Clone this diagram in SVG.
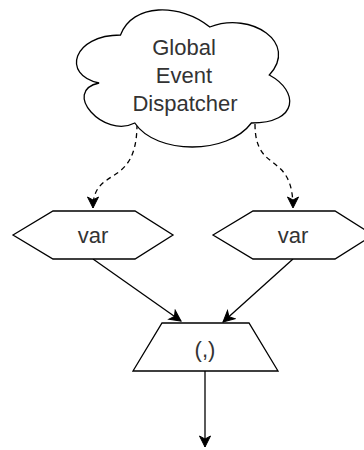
<svg xmlns="http://www.w3.org/2000/svg" width="364" height="450" viewBox="0 0 364 450">
<style>
.shape{fill:#fff;stroke:#000;stroke-width:1.3}
.edge{fill:none;stroke:#000;stroke-width:1.3}
.dash{stroke-dasharray:5 4}
text{font-family:"Liberation Sans",Arial,sans-serif;font-size:22px;fill:#333;text-anchor:middle}
</style>
<defs>
<marker id="arr" viewBox="-12 -7 13 14" refX="0" refY="0" markerWidth="13" markerHeight="14" markerUnits="userSpaceOnUse" orient="auto">
<path d="M0,0 L-11,-5.5 L-8,0 L-11,5.5 Z" fill="#000" stroke="#000" stroke-width="1"/>
</marker>
</defs>
<g id="edges">
<path class="edge dash" d="M137,124 C137,190 93,165 93,208" marker-end="url(#arr)"/>
<path class="edge dash" d="M255,124 C255,175 293,150 293,208" marker-end="url(#arr)"/>
<path class="edge" d="M93,259 L181,321" marker-end="url(#arr)"/>
<path class="edge" d="M293,259 L223,322" marker-end="url(#arr)"/>
<path class="edge" d="M205,371 L205,447" marker-end="url(#arr)"/>
</g>
<g id="cloud">
<path class="shape" d="M120.5,35 C72.9,35 61,75 99.1,83 C61,91 103.8,139 134.8,123 C156.2,155 227.6,155 251.4,123 C299,123 299,91 269.3,75 C299,43 251.4,11 209.8,27 C180,3 132.4,3 120.5,35 Z"/>
<text x="184" y="55">Global</text>
<text x="184" y="83">Event</text>
<text x="185" y="111">Dispatcher</text>
</g>
<g id="var1">
<polygon class="shape" points="13,235 53,211 135,211 173,235 135,259 53,259"/>
<text x="93" y="243">var</text>
</g>
<g id="var2">
<polygon class="shape" points="213,235 253,211 335,211 373,235 335,259 253,259"/>
<text x="293" y="243">var</text>
</g>
<g id="tuple">
<polygon class="shape" points="162,323 249,323 278,371 133,371"/>
<text x="205" y="357">(,)</text>
</g>
</svg>
